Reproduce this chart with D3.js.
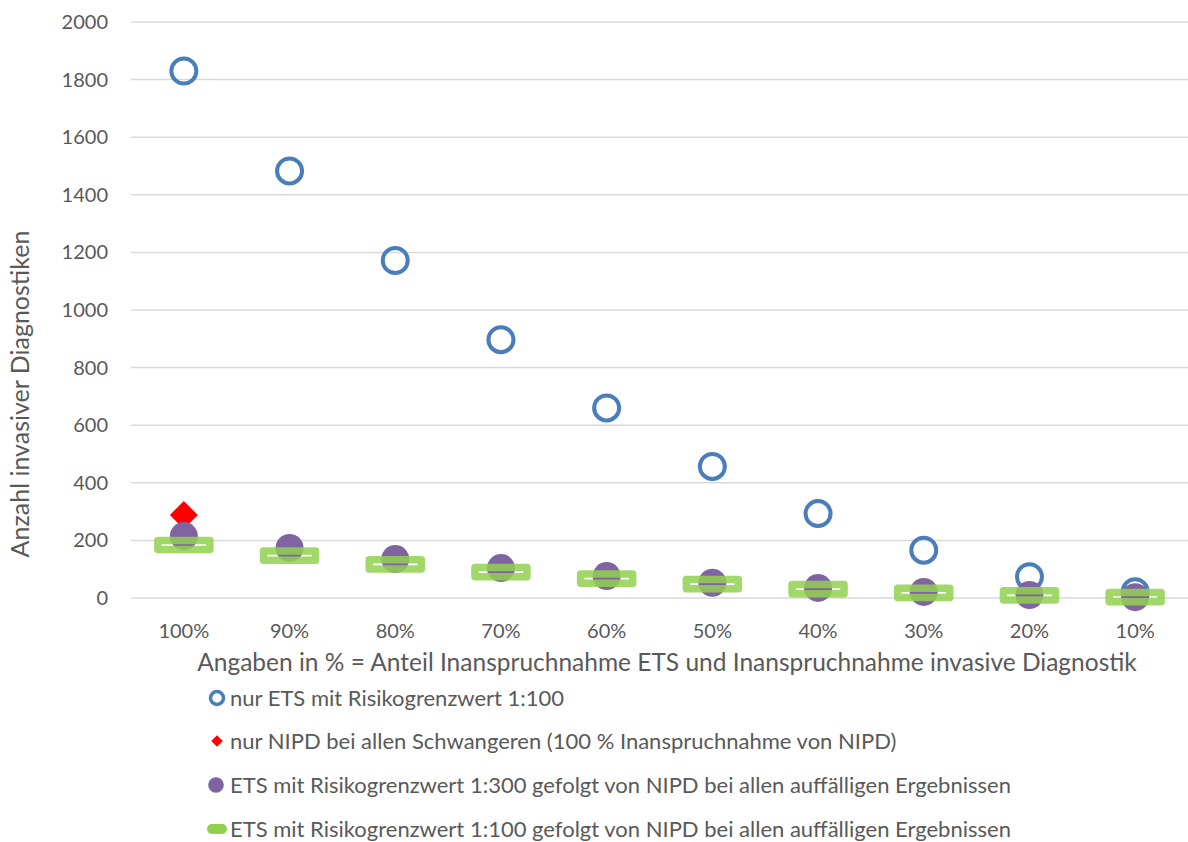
<!DOCTYPE html>
<meta charset="utf-8">
<style>
body { margin: 0; background: #fff; }
text { font-family: Lato, "Open Sans", sans-serif; fill: #595959; }
.grid line { stroke: #d9d9d9; stroke-width: 1.5px; }
</style>
<svg width="1188" height="842"></svg>
<script src="https://d3js.org/d3.v7.min.js"></script>
<script>
var categories = ["100%", "90%", "80%", "70%", "60%", "50%", "40%", "30%", "20%", "10%"];
var etsOnly = [1830, 1483, 1172, 897, 660, 457, 293, 166, 74, 22];
var nipdAll = [288, null, null, null, null, null, null, null, null, null];
var ets300Nipd = [215, 174, 135, 104, 76, 53, 35, 21, 10, 3];
var ets100Nipd = [184, 147, 117, 90, 67, 48, 31, 18, 9, 3];
var yTicks = [0, 200, 400, 600, 800, 1000, 1200, 1400, 1600, 1800, 2000];
var seriesNames = [
  "nur ETS mit Risikogrenzwert 1:100",
  "nur NIPD bei allen Schwangeren (100 % Inanspruchnahme von NIPD)",
  "ETS mit Risikogrenzwert 1:300 gefolgt von NIPD bei allen auffälligen Ergebnissen",
  "ETS mit Risikogrenzwert 1:100 gefolgt von NIPD bei allen auffälligen Ergebnissen"
];

var svg = d3.select("svg");

var x = d3.scaleBand().domain(categories).range([131, 1188]);
var y = d3.scaleLinear().domain([0, 2000]).range([598, 22]);
var cx = function(d, i) { return x(categories[i]) + x.bandwidth() / 2; };

// gridlines
svg.append("g").attr("class", "grid")
  .selectAll("line").data(yTicks).enter().append("line")
    .attr("x1", 131).attr("x2", 1188)
    .attr("y1", function(d) { return y(d); }).attr("y2", function(d) { return y(d); });

// y tick labels
svg.append("g").selectAll("text").data(yTicks).enter().append("text")
    .attr("x", 108).attr("y", function(d) { return y(d); })
    .attr("dy", "0.35em").attr("text-anchor", "end")
    .style("font-size", "20px")
    .text(function(d) { return d; });

// x tick labels
svg.append("g").selectAll("text").data(categories).enter().append("text")
    .attr("x", function(d) { return x(d) + x.bandwidth() / 2; }).attr("y", 638)
    .attr("text-anchor", "middle")
    .style("font-size", "20px")
    .text(function(d) { return d; });

// axis titles
svg.append("text")
    .attr("transform", "translate(29,394) rotate(-90)")
    .attr("text-anchor", "middle")
    .style("font-size", "25px")
    .text("Anzahl invasiver Diagnostiken");

svg.append("text")
    .attr("x", 667).attr("y", 671)
    .attr("text-anchor", "middle")
    .style("font-size", "24.5px")
    .text("Angaben in % = Anteil Inanspruchnahme ETS und Inanspruchnahme invasive Diagnostik");

// series 1: open blue circles
svg.append("g").selectAll("circle").data(etsOnly).enter().append("circle")
    .attr("cx", cx).attr("cy", function(d) { return y(d); })
    .attr("r", 12.5)
    .attr("fill", "none").attr("stroke", "#4a7ebb").attr("stroke-width", 4);

// series 2: red diamond
svg.append("g").selectAll("path").data(nipdAll).enter()
  .filter(function(d) { return d != null; })
  .append("path")
    .attr("d", d3.symbol().type(d3.symbolDiamond2).size(500))
    .attr("transform", function(d, i) { return "translate(" + cx(d, i) + "," + y(d) + ")"; })
    .attr("fill", "#ff0000");

// series 3: purple filled circles
svg.append("g").selectAll("circle").data(ets300Nipd).enter().append("circle")
    .attr("cx", cx).attr("cy", function(d) { return y(d); })
    .attr("r", 14)
    .attr("fill", "#8064a2");

// series 4: green dash markers
svg.append("g").selectAll("rect").data(ets100Nipd).enter().append("rect")
    .attr("x", function(d, i) { return cx(d, i) - 26; })
    .attr("y", function(d) { return y(d) - 4.6; })
    .attr("width", 52).attr("height", 9.2)
    .attr("fill", "none")
    .attr("stroke", "#92d050").attr("stroke-opacity", 0.85)
    .attr("stroke-width", 7.5).attr("stroke-linejoin", "round");

// legend
var legendY = [698, 741, 785, 829];
var lg = svg.append("g");
lg.selectAll("text").data(seriesNames).enter().append("text")
    .attr("x", 230).attr("y", function(d, i) { return legendY[i]; })
    .attr("dy", "0.35em")
    .style("font-size", "22px")
    .text(function(d) { return d; });

lg.append("circle").attr("cx", 217).attr("cy", legendY[0]).attr("r", 6.5)
    .attr("fill", "none").attr("stroke", "#4a7ebb").attr("stroke-width", 3.5);
lg.append("path")
    .attr("d", d3.symbol().type(d3.symbolDiamond2).size(84))
    .attr("transform", "translate(217," + legendY[1] + ")")
    .attr("fill", "#ff0000");
lg.append("circle").attr("cx", 216).attr("cy", legendY[2]).attr("r", 7.8)
    .attr("fill", "#8064a2");
lg.append("rect").attr("x", 207).attr("y", legendY[3] - 5).attr("width", 20).attr("height", 10)
    .attr("rx", 5).attr("fill", "#92d050");
</script>
